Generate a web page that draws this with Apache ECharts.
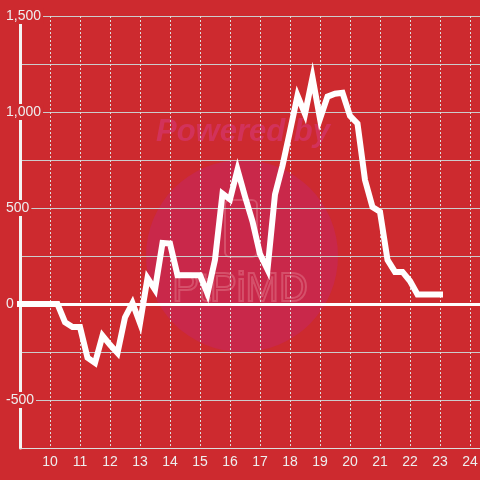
<!DOCTYPE html>
<html>
<head>
<meta charset="utf-8">
<script src="https://cdn.jsdelivr.net/npm/echarts@6/dist/echarts.min.js"></script>
<style>
html,body{margin:0;padding:0;background:#cd2a2f;}
#c{width:480px;height:480px;}
</style>
</head>
<body>
<div id="c"></div>
<script>
var times = [9, 9.25, 9.5, 9.75, 10, 10.25, 10.5, 10.75, 11, 11.25, 11.5, 11.75, 12, 12.25, 12.5, 12.75,
  13, 13.25, 13.5, 13.75, 14, 14.25, 14.5, 14.75, 15, 15.25, 15.5, 15.75, 16, 16.25, 16.5, 16.75,
  17, 17.25, 17.5, 17.75, 18, 18.25, 18.5, 18.75, 19, 19.25, 19.5, 19.75, 20, 20.25, 20.5, 20.75,
  21, 21.25, 21.5, 21.75, 22, 22.25, 22.5, 22.75, 23];
var values = [0, 0, 0, 0, 0, 0, -95, -120, -120, -280, -307, -165, -213, -255, -70, 5,
  -100, 135, 75, 318, 315, 150, 150, 150, 150, 55, 230, 575, 545, 700, 560, 430,
  260, 180, 570, 720, 900, 1085, 990, 1180, 965, 1080, 1095, 1100, 980, 940, 646, 505,
  480, 230, 167, 167, 120, 50, 50, 50, 50];
var xTickLabels = ['10','11','12','13','14','15','16','17','18','19','20','21','22','23','24'];
var yLabelValues = [-500, 0, 500, 1000, 1500];

var bg = '#cd2a2f';
var font = 'Liberation Sans, Arial, sans-serif';
var pts = times.map(function (t, i) { return [t, values[i]]; });

var chart = echarts.init(document.getElementById('c'));
chart.setOption({
  backgroundColor: bg,
  animation: false,
  grid: { left: 20, right: 0, top: 16, bottom: 32, containLabel: false, outerBoundsMode: 'none' },
  graphic: [
    { type: 'circle', z: -10, shape: { cx: 242, cy: 256, r: 96 }, style: { fill: '#c9284a' }, silent: true },
    { type: 'text', z: -9, style: { x: 243, y: 132, text: 'Powered by', font: 'italic bold 31px ' + font,
        fill: '#d2325a', textAlign: 'center', textVerticalAlign: 'middle' }, silent: true },
    { type: 'rect', z: -9, shape: { x: 225, y: 200, width: 32, height: 57, r: 5 },
      style: { fill: 'none', stroke: '#d5506a', lineWidth: 2 }, silent: true },
    { type: 'text', z: -9, style: { x: 240, y: 290, text: 'PtPiMD', font: '40px ' + font,
        fill: 'none', stroke: '#d5506a', lineWidth: 2, textAlign: 'center', textVerticalAlign: 'middle' }, silent: true }
  ],
  xAxis: {
    type: 'value', min: 9, max: 24.3333, interval: 1,
    axisLine: { show: true, onZero: false, lineStyle: { color: '#dddddd', width: 1 } },
    axisTick: { show: false },
    splitLine: { show: true, lineStyle: { color: '#dddddd', width: 1, type: [2, 2] } },
    axisLabel: {
      color: '#eeeeee', fontSize: 14, fontFamily: font, margin: 7,
      formatter: function (v) {
        var i = xTickLabels.indexOf(String(Math.round(v)));
        return (Math.abs(v - Math.round(v)) < 1e-6 && i >= 0) ? xTickLabels[i] : '';
      }
    }
  },
  yAxis: {
    type: 'value', min: -750, max: 1500, interval: 250,
    axisLine: { show: true, lineStyle: { color: '#f4f4f4', width: 3 } },
    axisTick: { show: false },
    splitLine: { show: true, lineStyle: { color: '#cccccc', width: 1 } },
    axisLabel: {
      color: '#eeeeee', fontSize: 14, fontFamily: font, align: 'left', margin: 16,
      backgroundColor: bg, padding: [1, 2, 1, 2],
      formatter: function (v) {
        if (yLabelValues.indexOf(v) < 0) return '';
        return v.toLocaleString('en-US');
      }
    }
  },
  series: [{
    type: 'line', data: pts, showSymbol: false, symbol: 'none', clip: false,
    lineStyle: { color: '#ffffff', width: 6, join: 'miter', cap: 'square' },
    z: 3,
    markLine: {
      silent: true, symbol: 'none', label: { show: false },
      lineStyle: { color: '#ffffff', width: 3, type: 'solid' },
      data: [{ yAxis: 0 }],
      z: 2
    }
  }]
});
</script>
</body>
</html>
